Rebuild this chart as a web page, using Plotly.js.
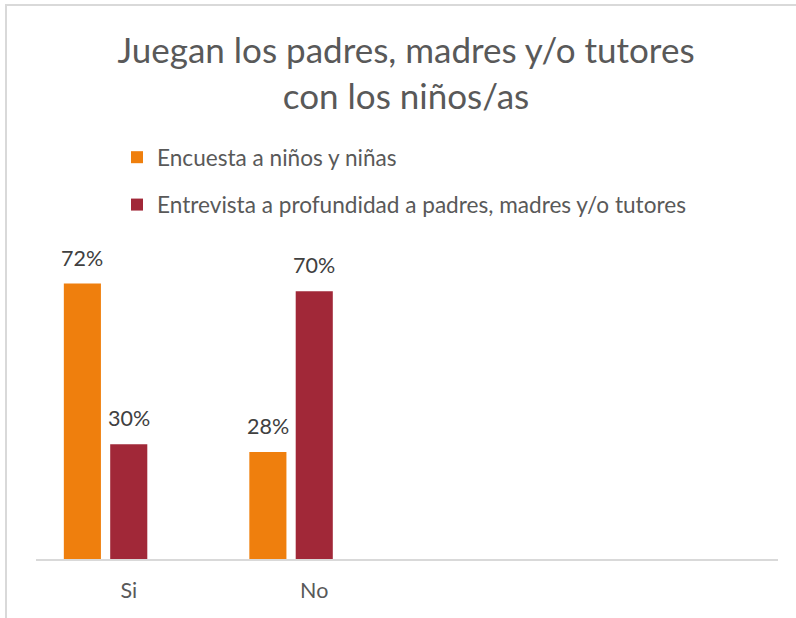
<!DOCTYPE html>
<html>
<head>
<meta charset="utf-8">
<script src="https://cdn.plot.ly/plotly-3.0.1.min.js"></script>
<style>
  html, body { margin: 0; padding: 0; background: #fff; overflow: hidden; }
  #chart { width: 796px; height: 618px; }
  #frame { position: absolute; left: 5px; top: 4px; width: 900px; height: 700px;
           border-left: 2px solid #d9d9d9; border-top: 2px solid #d9d9d9; pointer-events: none; }
</style>
</head>
<body>
<div id="chart"></div>
<div id="frame"></div>
<script>
const categories = ["Si", "No"];
const seriesNames = ["Encuesta a niños y niñas", "Entrevista a profundidad a padres, madres y/o tutores"];
const encuesta = [72, 28];
const entrevista = [30, 70];
const colors = ["#EF7F0D", "#A12838"];

const FONT = "Lato, 'Open Sans', sans-serif";
const seriesValues = [encuesta, entrevista];
const BAR_W = 0.2;
const centers = [-0.25, 0];   // slot centres within each category (third slot empty)
const UNIT_PX = 742 / 4;

const traces = seriesValues.map((vals, i) => ({
  type: "bar",
  name: seriesNames[i],
  x: categories,
  y: vals,
  width: BAR_W,
  offset: centers[i] - BAR_W / 2,
  marker: { color: colors[i] },
  legendgroup: "g" + i,
  hoverinfo: "x+y+name"
}));

const annotations = [];
seriesValues.forEach((vals, i) => {
  vals.forEach((v, j) => {
    annotations.push({
      x: categories[j], y: v, xref: "x", yref: "y",
      text: v + "%", showarrow: false,
      xshift: centers[i] * UNIT_PX, yshift: 26,
      yanchor: "middle", xanchor: "center",
      font: { family: FONT, size: 21.5, color: "#404040" }
    });
  });
});

const layout = {
  width: 796, height: 618,
  margin: { l: 36, r: 18, t: 253, b: 59, autoexpand: false },
  paper_bgcolor: "#ffffff", plot_bgcolor: "#ffffff",
  font: { family: FONT, color: "#595959" },
  title: {
    text: "Juegan los padres, madres y/o tutores<br>con los niños/as",
    font: { family: FONT, size: 35, color: "#595959" },
    xref: "container", yref: "container",
    x: 406 / 796, xanchor: "center",
    y: 1 - 63 / 618, yanchor: "top"
  },
  barmode: "overlay",
  showlegend: true,
  legend: {
    orientation: "v",
    xref: "container", yref: "container",
    x: 117 / 796, xanchor: "left",
    y: 1 - 136 / 618, yanchor: "top",
    traceorder: "grouped",
    tracegroupgap: 15,
    font: { family: FONT, size: 22.6, color: "#595959" },
    bgcolor: "rgba(0,0,0,0)"
  },
  xaxis: {
    type: "category",
    range: [-0.5, 3.5],
    showgrid: false, zeroline: false,
    showline: true, linecolor: "#d9d9d9", linewidth: 2,
    ticks: "outside", ticklen: 11, tickcolor: "rgba(0,0,0,0)",
    tickfont: { family: FONT, size: 21.5, color: "#595959" },
    fixedrange: true
  },
  yaxis: {
    range: [0, 80],
    showgrid: false, zeroline: false, showline: false,
    showticklabels: false, ticks: "",
    fixedrange: true
  },
  annotations: annotations
};

Plotly.newPlot("chart", traces, layout, { displayModeBar: false, staticPlot: true });
</script>
</body>
</html>
